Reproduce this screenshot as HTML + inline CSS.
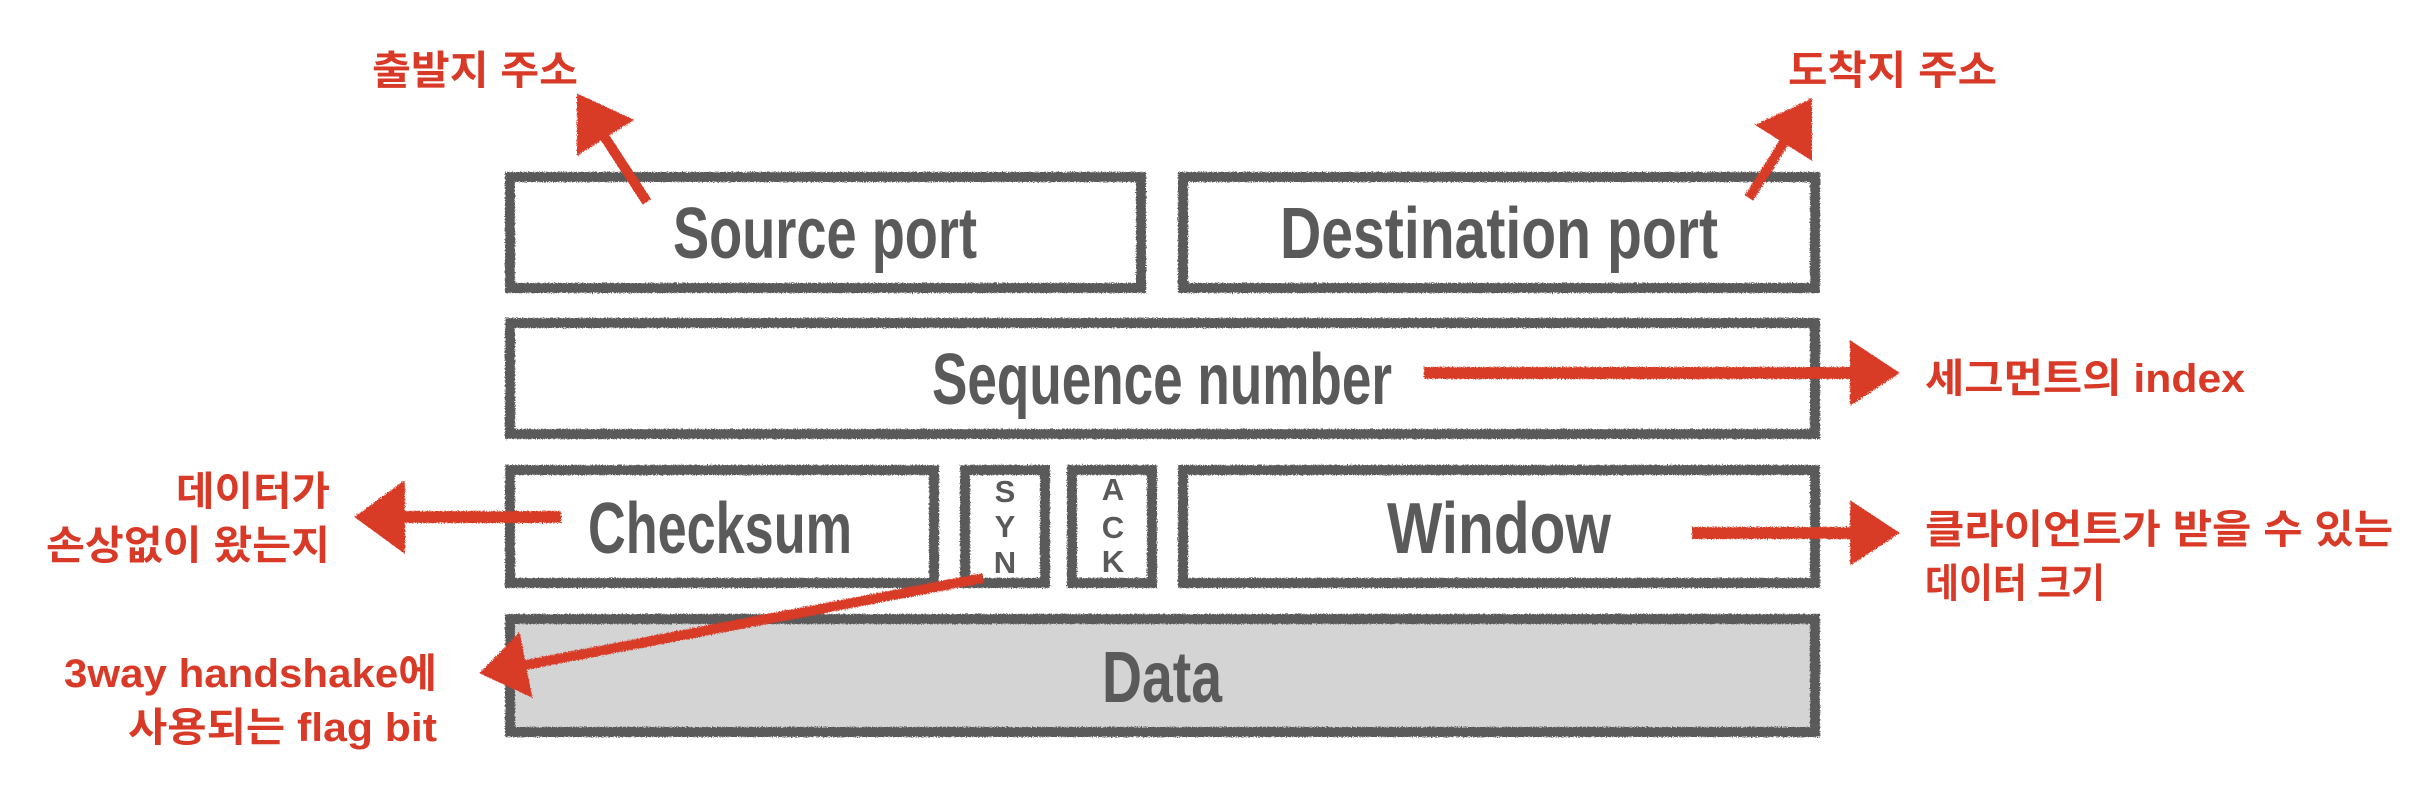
<!DOCTYPE html>
<html><head><meta charset="utf-8"><style>
html,body{margin:0;padding:0;background:#fff;width:2428px;height:792px;overflow:hidden}
svg{display:block}
.g{font-family:"Liberation Sans Narrow","Liberation Sans",sans-serif;font-weight:bold;fill:#5a5a5a}
.r{font-family:"Liberation Sans","Noto Sans CJK KR",sans-serif;font-weight:bold;fill:#d83a27;font-size:40px}
</style></head><body>
<svg width="2428" height="792" viewBox="0 0 2428 792" xmlns="http://www.w3.org/2000/svg">
<defs>
<filter id="chalk" x="-5%" y="-5%" width="110%" height="110%">
<feTurbulence type="fractalNoise" baseFrequency="0.8" numOctaves="2" result="n"/>
<feDisplacementMap in="SourceGraphic" in2="n" scale="4"/>
</filter>
</defs>
<g filter="url(#chalk)" stroke="#5a5a5a" stroke-width="10" fill="none">
<rect x="510" y="177" width="631" height="111" fill="#fff"/>
<rect x="1183" y="177" width="632" height="111" fill="#fff"/>
<rect x="510" y="323" width="1305" height="111" fill="#fff"/>
<rect x="510" y="470" width="424" height="113" fill="#fff"/>
<rect x="965" y="470" width="80" height="113" fill="#fff"/>
<rect x="1072" y="470" width="80" height="113" fill="#fff"/>
<rect x="1183" y="470" width="632" height="113" fill="#fff"/>
<rect x="510" y="619" width="1305" height="113" fill="#d4d4d4"/>
</g>
<g class="g">
<text x="673" y="258" font-size="72" textLength="304" lengthAdjust="spacingAndGlyphs">Source port</text>
<text x="1280" y="258" font-size="72" textLength="438" lengthAdjust="spacingAndGlyphs">Destination port</text>
<text x="932" y="404" font-size="72" textLength="460" lengthAdjust="spacingAndGlyphs">Sequence number</text>
<text x="588" y="553" font-size="72" textLength="264" lengthAdjust="spacingAndGlyphs">Checksum</text>
<text x="1387" y="553" font-size="72" textLength="224" lengthAdjust="spacingAndGlyphs">Window</text>
<text x="1102" y="702" font-size="72" textLength="120" lengthAdjust="spacingAndGlyphs">Data</text>
<g font-size="31" text-anchor="middle">
<text x="1005" y="502">S</text><text x="1005" y="537">Y</text><text x="1005" y="573">N</text>
<text x="1113" y="500">A</text><text x="1113" y="538">C</text><text x="1113" y="572">K</text>
</g>
</g>
<g filter="url(#chalk)" fill="#d83a27" stroke="#d83a27">
<line x1="647" y1="202" x2="600" y2="130" stroke-width="10"/>
<polygon points="578,95 632,120 578,154" stroke-width="2"/>
<line x1="1749" y1="198" x2="1790" y2="133" stroke-width="10"/>
<polygon points="1811,100 1811,159 1757,125" stroke-width="2"/>
<line x1="1424" y1="373" x2="1860" y2="373" stroke-width="12"/>
<polygon points="1898,373 1851,342 1851,404" stroke-width="2"/>
<line x1="561" y1="517" x2="395" y2="517" stroke-width="12"/>
<polygon points="356,517 404,482 404,552" stroke-width="2"/>
<line x1="1692" y1="533" x2="1860" y2="533" stroke-width="12"/>
<polygon points="1898,533 1851,502 1851,564" stroke-width="2"/>
<line x1="983" y1="578" x2="520" y2="666" stroke-width="10"/>
<polygon points="481,673 531,696 519,634" stroke-width="2"/>
</g>
<g class="r">
<text x="372" y="84" textLength="206" lengthAdjust="spacingAndGlyphs">출발지 주소</text>
<text x="1788" y="84" textLength="209" lengthAdjust="spacingAndGlyphs">도착지 주소</text>
<text x="1925" y="392" textLength="320" lengthAdjust="spacingAndGlyphs">세그먼트의 index</text>
<text x="1925" y="543" textLength="468" lengthAdjust="spacingAndGlyphs">클라이언트가 받을 수 있는</text>
<text x="1925" y="597" textLength="180" lengthAdjust="spacingAndGlyphs">데이터 크기</text>
<text x="176" y="505" textLength="154" lengthAdjust="spacingAndGlyphs">데이터가</text>
<text x="46" y="559" textLength="284" lengthAdjust="spacingAndGlyphs">손상없이 왔는지</text>
<text x="64" y="687" textLength="373" lengthAdjust="spacingAndGlyphs">3way handshake에</text>
<text x="128" y="741" textLength="309" lengthAdjust="spacingAndGlyphs">사용되는 flag bit</text>
</g>
</svg>
</body></html>
